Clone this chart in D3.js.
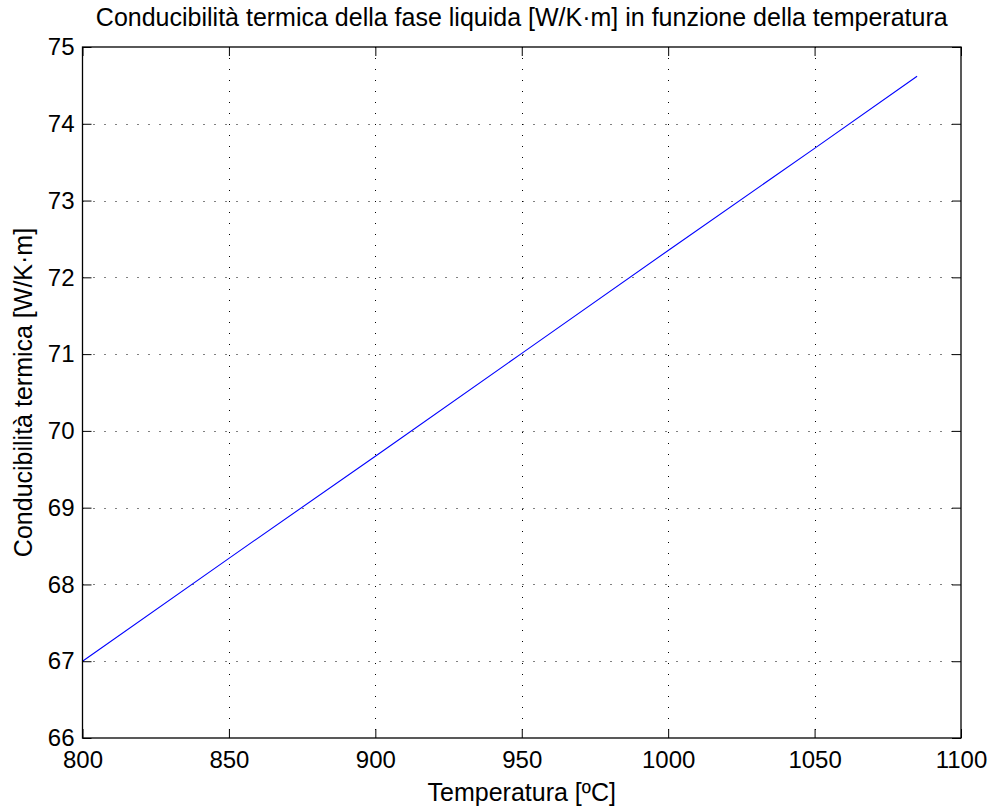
<!DOCTYPE html>
<html>
<head>
<meta charset="utf-8">
<script src="https://cdn.jsdelivr.net/npm/d3@7"></script>
<style>
  html, body { margin: 0; padding: 0; background: #fff; }
  svg { display: block; }
  text { font-family: "Liberation Sans", Arial, Helvetica, sans-serif; fill: #000; }
</style>
</head>
<body>
<svg id="chart" width="992" height="807"></svg>
<script>
// Liquid-phase thermal conductivity vs temperature
const temperature = [800, 850, 900, 950, 1000, 1050, 1085];
const conductivity = [67.00, 68.34, 69.67, 71.01, 72.35, 73.68, 74.62];

const xTicks = [800, 850, 900, 950, 1000, 1050, 1100];
const yTicks = [66, 67, 68, 69, 70, 71, 72, 73, 74, 75];

const titleText = "Conducibilità termica della fase liquida [W/K·m] in funzione della temperatura";
const xLabel = "Temperatura [ºC]";
const yLabel = "Conducibilità termica [W/K·m]";

const W = 992, H = 807;
const m = { left: 82.5, right: W - 961, top: 47, bottom: H - 738 };

const svg = d3.select("#chart");

const x = d3.scaleLinear().domain([800, 1100]).range([m.left, W - m.right]);
const y = d3.scaleLinear().domain([66, 75]).range([H - m.bottom, m.top]);

const pw = x.range()[1] - x.range()[0];
const ph = y.range()[0] - y.range()[1];

// dotted grid
const grid = svg.append("g").attr("stroke", "#000").attr("stroke-width", 1)
  .attr("stroke-dasharray", "1,10");
grid.selectAll("line.vx").data(xTicks.slice(1, -1)).join("line")
  .attr("x1", d => Math.round(x(d)) + 0.5).attr("x2", d => Math.round(x(d)) + 0.5)
  .attr("y1", y.range()[1]).attr("y2", y.range()[0]);
grid.selectAll("line.hy").data(yTicks.slice(1, -1)).join("line")
  .attr("y1", d => Math.round(y(d)) + 0.5).attr("y2", d => Math.round(y(d)) + 0.5)
  .attr("x1", x.range()[0]).attr("x2", x.range()[1]);

// data line
const line = d3.line().x((d, i) => x(temperature[i])).y(d => y(d));
svg.append("path").datum(conductivity)
  .attr("d", line).attr("fill", "none")
  .attr("stroke", "#0000ff").attr("stroke-width", 1.1);

// axes with inward ticks (box style)
const tickLen = 9;
const fs = 25;
const tickFs = 24;
const axBottom = svg.append("g").attr("transform", `translate(0,${y.range()[0]})`)
  .call(d3.axisBottom(x).tickValues(xTicks).tickSize(-tickLen).tickPadding(13).tickFormat(d3.format("d")));
const axTop = svg.append("g").attr("transform", `translate(0,${y.range()[1]})`)
  .call(d3.axisTop(x).tickValues(xTicks).tickSize(-tickLen).tickFormat(""));
const axLeft = svg.append("g").attr("transform", `translate(${x.range()[0]},0)`)
  .call(d3.axisLeft(y).tickValues(yTicks).tickSize(-tickLen).tickPadding(8).tickFormat(d3.format("d")));
const axRight = svg.append("g").attr("transform", `translate(${x.range()[1]},0)`)
  .call(d3.axisRight(y).tickValues(yTicks).tickSize(-tickLen).tickFormat(""));

[axBottom, axTop, axLeft, axRight].forEach(g => {
  g.select(".domain").remove();
  g.selectAll(".tick line").attr("stroke", "#000").attr("stroke-width", 1);
  g.selectAll("text").attr("font-size", tickFs).attr("font-family", "Liberation Sans, Arial, sans-serif").attr("fill", "#000");
});

// frame
svg.append("rect")
  .attr("x", x.range()[0]).attr("y", y.range()[1])
  .attr("width", pw).attr("height", ph)
  .attr("fill", "none").attr("stroke", "#000").attr("stroke-width", 1.3);

// title and labels
const cx = (x.range()[0] + x.range()[1]) / 2;
svg.append("text").attr("x", cx).attr("y", 26)
  .attr("text-anchor", "middle").attr("font-size", fs).text(titleText);
svg.append("text").attr("x", cx).attr("y", 801)
  .attr("text-anchor", "middle").attr("font-size", fs).text(xLabel);
svg.append("text")
  .attr("transform", `translate(32,${(y.range()[0] + y.range()[1]) / 2}) rotate(-90)`)
  .attr("text-anchor", "middle").attr("font-size", fs).text(yLabel);
</script>
</body>
</html>
